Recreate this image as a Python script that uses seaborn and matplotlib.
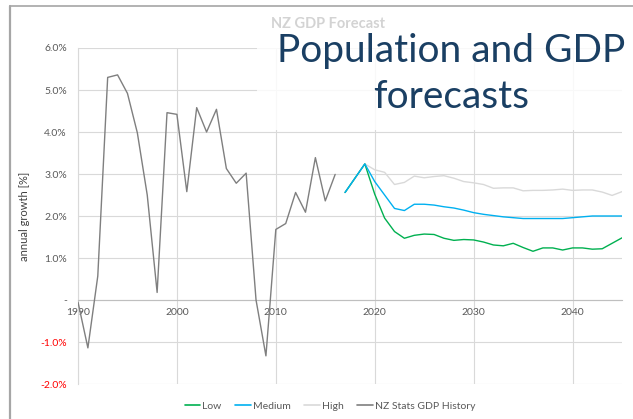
import matplotlib
matplotlib.use("Agg")
import matplotlib.pyplot as plt
from matplotlib.lines import Line2D
from matplotlib.patches import Rectangle
from matplotlib.ticker import FuncFormatter, FixedLocator
import pandas as pd
import seaborn as sns

# --- data -----------------------------------------------------------------
history_years = list(range(1990, 2017))
history_growth = [-0.05, -1.14, 0.57, 5.30, 5.36, 4.92, 3.98, 2.50, 0.18, 4.46,
                  4.42, 2.58, 4.58, 4.00, 4.54, 3.13, 2.78, 3.02, 0.00, -1.33,
                  1.68, 1.82, 2.56, 2.09, 3.39, 2.36, 2.99]

forecast_years = list(range(2017, 2046))
low_growth = [2.56, 2.90, 3.24, 2.52, 1.95, 1.63, 1.47, 1.54, 1.57, 1.56,
              1.47, 1.42, 1.44, 1.43, 1.38, 1.31, 1.29, 1.35, 1.25, 1.16,
              1.24, 1.24, 1.19, 1.24, 1.24, 1.21, 1.22, 1.35, 1.48]
medium_growth = [2.56, 2.90, 3.24, 2.82, 2.50, 2.18, 2.13, 2.28, 2.28, 2.26,
                 2.22, 2.19, 2.14, 2.08, 2.04, 2.01, 1.98, 1.96, 1.94, 1.94,
                 1.94, 1.94, 1.94, 1.96, 1.98, 2.00, 2.00, 2.00, 2.00]
high_growth = [2.56, 2.90, 3.24, 3.10, 3.04, 2.75, 2.80, 2.95, 2.91, 2.94,
               2.96, 2.90, 2.82, 2.79, 2.75, 2.66, 2.67, 2.67, 2.60, 2.61,
               2.61, 2.62, 2.64, 2.61, 2.62, 2.62, 2.57, 2.49, 2.58]

series_names = ["Low", "Medium", "High", "NZ Stats GDP History"]
series_colors = ["#00B050", "#00B0F0", "#D9D9D9", "#7F7F7F"]

x_ticks = [1990, 2000, 2010, 2020, 2030, 2040]
y_ticks = [-2, -1, 0, 1, 2, 3, 4, 5, 6]

chart_title = "NZ GDP Forecast"
slide_title = "Population and GDP\nforecasts"
y_label = "annual growth [%]"

# --- frames ---------------------------------------------------------------
hist_df = pd.DataFrame({"year": history_years, "growth": history_growth})
fc_df = pd.DataFrame({
    "year": forecast_years,
    "Low": low_growth,
    "Medium": medium_growth,
    "High": high_growth,
})

# --- style ----------------------------------------------------------------
sns.set_theme(style="white")
plt.rcParams["font.family"] = ["Lato", "DejaVu Sans"]
text_grey = "#595959"
grid_grey = "#D9D9D9"

fig = plt.figure(figsize=(6.33, 4.19), dpi=100)
ax = fig.add_axes([78 / 633, 35 / 419, 544 / 633, 336 / 419])

palette = dict(zip(series_names, series_colors))
lw = 1.0
sns.lineplot(data=hist_df, x="year", y="growth", ax=ax,
             color=palette["NZ Stats GDP History"], linewidth=lw, zorder=3)
sns.lineplot(data=fc_df, x="year", y="High", ax=ax,
             color=palette["High"], linewidth=lw, zorder=4)
sns.lineplot(data=fc_df, x="year", y="Low", ax=ax,
             color=palette["Low"], linewidth=lw, zorder=5)
sns.lineplot(data=fc_df, x="year", y="Medium", ax=ax,
             color=palette["Medium"], linewidth=lw, zorder=6)

ax.set_xlim(1990, 2045)
ax.set_ylim(-2, 6)
ax.xaxis.set_major_locator(FixedLocator(x_ticks))
ax.yaxis.set_major_locator(FixedLocator(y_ticks))


def pct_fmt(v, _pos):
    if abs(v) < 1e-9:
        return "-"
    return f"{v:.1f}%"


ax.yaxis.set_major_formatter(FuncFormatter(pct_fmt))
ax.grid(True, color=grid_grey, linewidth=0.8)
ax.set_axisbelow(True)

for side in ["top", "right"]:
    ax.spines[side].set_visible(False)
ax.spines["left"].set_color(grid_grey)
ax.spines["left"].set_linewidth(0.8)
ax.spines["bottom"].set_position(("data", 0))
ax.spines["bottom"].set_color("#BFBFBF")
ax.spines["bottom"].set_linewidth(0.8)

ax.tick_params(axis="both", length=0, labelsize=7.5, labelcolor=text_grey)
ax.tick_params(axis="y", pad=8)
ax.tick_params(axis="x", pad=6)
for lbl, val in zip(ax.get_yticklabels(), y_ticks):
    if val < 0:
        lbl.set_color("#FF0000")

ax.set_xlabel("")
ax.set_ylabel(y_label, fontsize=8, color="#404040")
ax.yaxis.set_label_coords(-48 / 544, 0.5)

# legend below the plot
handles = [Line2D([0], [0], color=c, linewidth=1.2) for c in series_colors]
fig.legend(handles, series_names, loc="center", bbox_to_anchor=(330 / 633, 13 / 419),
           ncol=4, frameon=False, fontsize=7.5, handlelength=1.5,
           handletextpad=0.2, columnspacing=1.3, labelcolor=text_grey)

# translucent heading panel over the upper right of the chart
panel = Rectangle((257 / 633, 1 - 130 / 419), 1 - 257 / 633, 123 / 419,
                  transform=fig.transFigure, facecolor="white", alpha=0.82,
                  edgecolor="none", zorder=8)
fig.add_artist(panel)

fig.text(328 / 633, 1 - 24 / 419, chart_title, ha="center", va="center",
         fontsize=10.5, fontweight="bold", color="#D3D3D3", zorder=9)

fig.text(451 / 633, 1 - 74 / 419, slide_title, ha="center", va="center",
         fontsize=28, fontweight="normal", color="#1A3F63", linespacing=1.33,
         zorder=10)

# outer slide frame lines
fig.add_artist(Line2D([10 / 633, 10 / 633], [0, 1 - 6 / 419],
                      transform=fig.transFigure, color="#A6A6A6", linewidth=1.6, zorder=11))
fig.add_artist(Line2D([10 / 633, 1], [1 - 6 / 419, 1 - 6 / 419],
                      transform=fig.transFigure, color="#A6A6A6", linewidth=1.2, zorder=11))

fig.savefig("out.png", dpi=100)
